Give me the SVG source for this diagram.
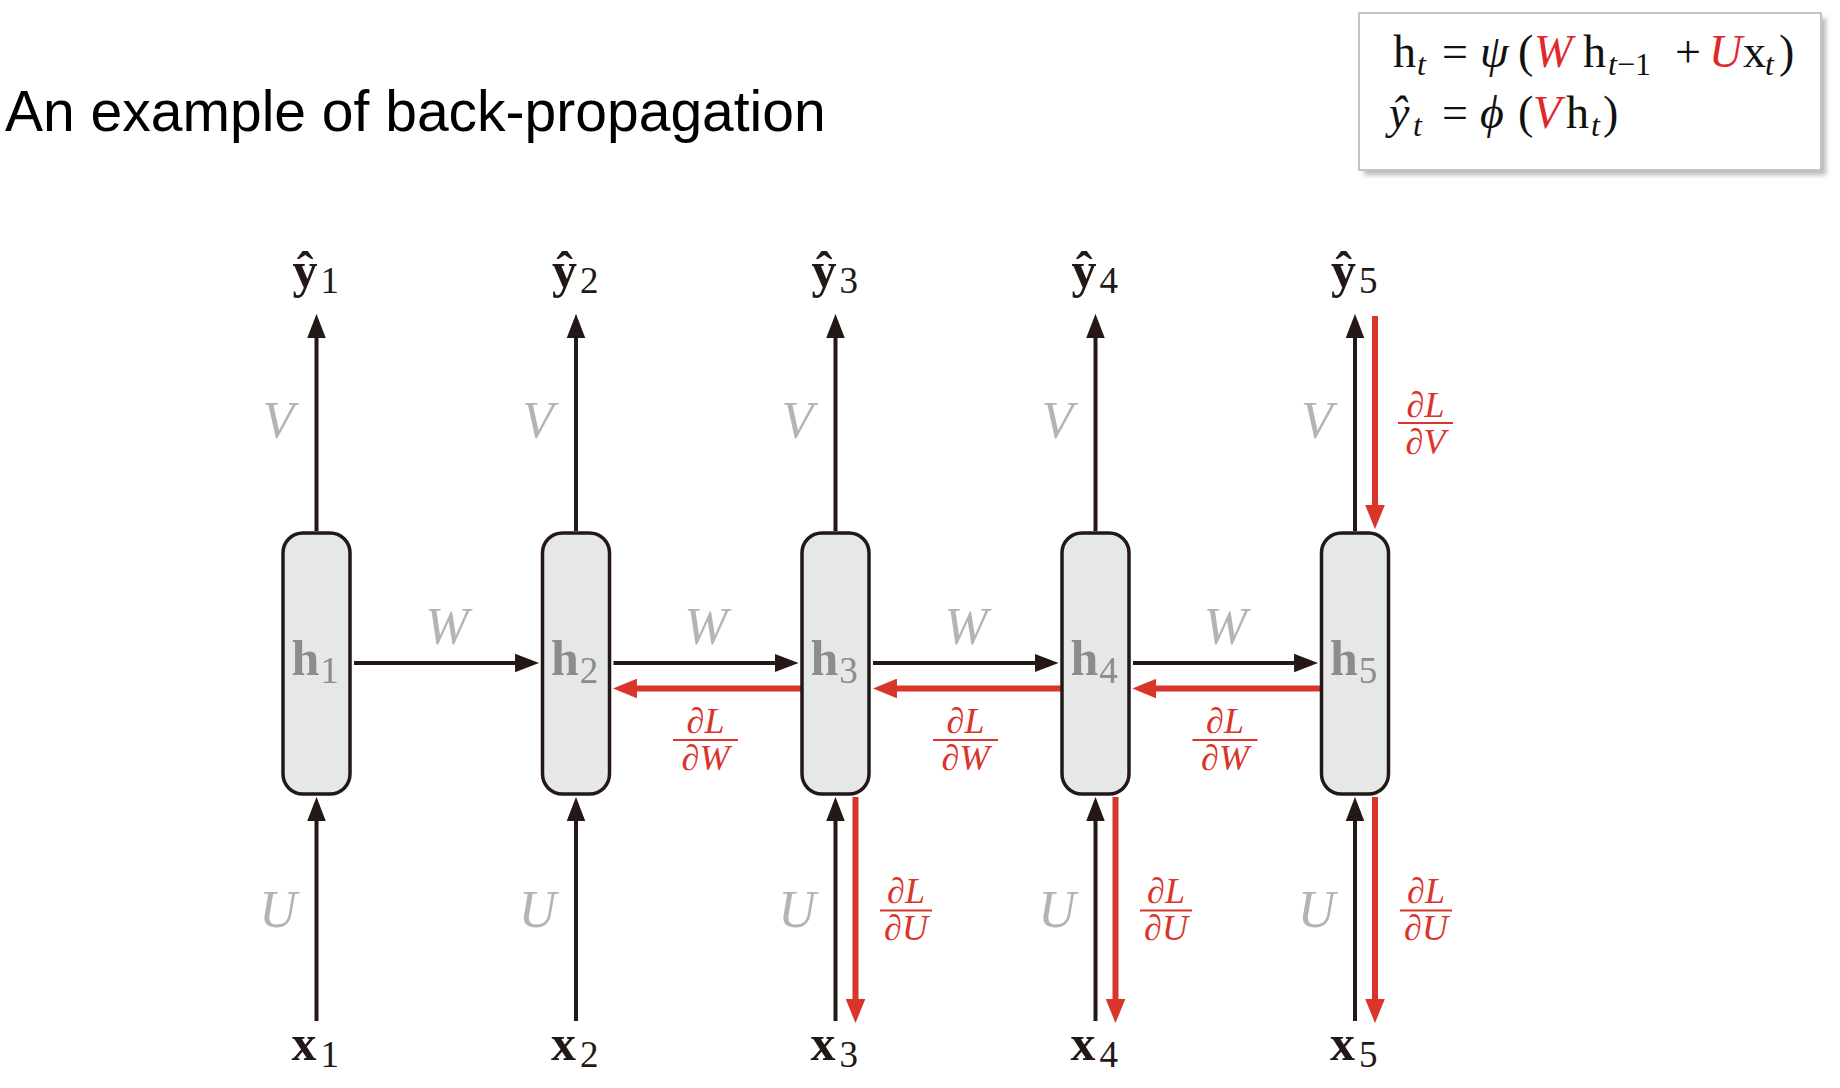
<svg xmlns="http://www.w3.org/2000/svg" width="1840" height="1088" viewBox="0 0 1840 1088">
<style>
  .title { font-family: "Liberation Sans", Arial, sans-serif; font-size: 57px; fill: #000; }
  .f { font-family: "Liberation Serif", "Times New Roman", serif; font-size: 46px; fill: #111; }
  .fs { font-family: "Liberation Serif", "Times New Roman", serif; font-size: 32px; fill: #111; }
  .it { font-style: italic; }
  .fr { fill: #e3262b; }
  .node rect { fill: #e6e8e8; stroke: #231815; stroke-width: 3.5; }
  .hl { font-family: "Liberation Serif", "Times New Roman", serif; font-weight: bold; font-size: 50px; fill: #8c8c8c; }
  .sub { font-weight: normal; font-size: 37px; }
  .io { font-family: "Liberation Serif", "Times New Roman", serif; font-weight: bold; font-size: 50px; fill: #231815; }
  .wl { font-family: "Liberation Serif", "Times New Roman", serif; font-style: italic; font-size: 52px; fill: #b4b4b4; text-anchor: middle; }
  .gl { font-family: "Liberation Serif", "Times New Roman", serif; font-style: italic; font-size: 36px; fill: #d9352b; text-anchor: middle; }
  .fl { stroke: #d9352b; stroke-width: 1.8; }
  .blk { stroke: #231815; stroke-width: 4; fill: none; marker-end: url(#ab); }
  .red { stroke: #d9352b; stroke-width: 6; fill: none; marker-end: url(#ar); }
</style>
<defs>
  <marker id="ab" markerUnits="userSpaceOnUse" markerWidth="24" markerHeight="20" viewBox="0 0 22 17" refX="10" refY="8.5" orient="auto">
    <path d="M0,0 L22,8.5 L0,17 z" fill="#231815"/>
  </marker>
  <marker id="ar" markerUnits="userSpaceOnUse" markerWidth="24" markerHeight="20" viewBox="0 0 22 18" refX="10" refY="9" orient="auto">
    <path d="M0,0 L22,9 L0,18 z" fill="#d9352b"/>
  </marker>
  <filter id="sh" x="-10%" y="-10%" width="130%" height="140%">
    <feGaussianBlur stdDeviation="2.5"/>
  </filter>
</defs>

<rect width="1840" height="1088" fill="#ffffff"/>

<text class="title" x="5" y="131">An example of back-propagation</text>

<g id="formula">
  <rect x="1364" y="18" width="462" height="157" fill="#b8b8b8" filter="url(#sh)"/>
  <rect x="1359" y="13" width="462" height="157" fill="#ffffff" stroke="#c4c4c4" stroke-width="2"/>
  <text class="f" x="1393" y="67">h</text>
  <text class="fs it" x="1417" y="75">t</text>
  <text class="f" x="1442" y="67">=</text>
  <text class="f it" x="1480" y="67">ψ</text>
  <text class="f" x="1518" y="67">(</text>
  <text class="f it fr" x="1534" y="67">W</text>
  <text class="f" x="1583" y="67">h</text>
  <text class="fs" x="1608" y="75"><tspan class="it">t</tspan>−1</text>
  <text class="f" x="1675" y="67">+</text>
  <text class="f it fr" x="1709" y="67">U</text>
  <text class="f" x="1743" y="67">x</text>
  <text class="fs it" x="1765" y="75">t</text>
  <text class="f" x="1779" y="67">)</text>

  <text class="f it" x="1389" y="128">ŷ</text>
  <text class="fs it" x="1413" y="136">t</text>
  <text class="f" x="1442" y="128">=</text>
  <text class="f it" x="1480" y="128">ϕ</text>
  <text class="f" x="1518" y="128">(</text>
  <text class="f it fr" x="1533" y="128">V</text>
  <text class="f" x="1566" y="128">h</text>
  <text class="fs it" x="1591" y="136">t</text>
  <text class="f" x="1603" y="128">)</text>
</g>

<g id="connectors">
  <!-- V arrows up -->
  <line class="blk" x1="316.5" y1="531" x2="316.5" y2="327"/>
  <line class="blk" x1="576" y1="531" x2="576" y2="327"/>
  <line class="blk" x1="835.5" y1="531" x2="835.5" y2="327"/>
  <line class="blk" x1="1095.5" y1="531" x2="1095.5" y2="327"/>
  <line class="blk" x1="1355" y1="531" x2="1355" y2="327"/>
  <!-- U arrows up -->
  <line class="blk" x1="316.5" y1="1021" x2="316.5" y2="810"/>
  <line class="blk" x1="576" y1="1021" x2="576" y2="810"/>
  <line class="blk" x1="835.5" y1="1021" x2="835.5" y2="810"/>
  <line class="blk" x1="1095.5" y1="1021" x2="1095.5" y2="810"/>
  <line class="blk" x1="1355" y1="1021" x2="1355" y2="810"/>
  <!-- W arrows right -->
  <line class="blk" x1="354" y1="663" x2="526" y2="663"/>
  <line class="blk" x1="613.5" y1="663" x2="785.5" y2="663"/>
  <line class="blk" x1="873" y1="663" x2="1045.5" y2="663"/>
  <line class="blk" x1="1133" y1="663" x2="1305" y2="663"/>
  <!-- red gradient arrows left -->
  <line class="red" x1="801.5" y1="688.5" x2="626" y2="688.5"/>
  <line class="red" x1="1061.5" y1="688.5" x2="886" y2="688.5"/>
  <line class="red" x1="1321" y1="688.5" x2="1145.5" y2="688.5"/>
  <!-- red dL/dU arrows down -->
  <line class="red" x1="855.5" y1="797" x2="855.5" y2="1010"/>
  <line class="red" x1="1115.5" y1="797" x2="1115.5" y2="1010"/>
  <line class="red" x1="1375" y1="797" x2="1375" y2="1010"/>
  <!-- red dL/dV arrow down -->
  <line class="red" x1="1375" y1="316" x2="1375" y2="516"/>
</g>

<g id="weight-labels">
  <text class="wl" x="278.5" y="438">V</text>
  <text class="wl" x="538" y="438">V</text>
  <text class="wl" x="797.5" y="438">V</text>
  <text class="wl" x="1057.5" y="438">V</text>
  <text class="wl" x="1317" y="438">V</text>
  <text class="wl" x="278" y="927">U</text>
  <text class="wl" x="537.5" y="927">U</text>
  <text class="wl" x="797" y="927">U</text>
  <text class="wl" x="1057" y="927">U</text>
  <text class="wl" x="1316.5" y="927">U</text>
  <text class="wl" x="447" y="644">W</text>
  <text class="wl" x="706" y="644">W</text>
  <text class="wl" x="966" y="644">W</text>
  <text class="wl" x="1225.5" y="644">W</text>
</g>

<g id="gradient-labels">
  <text class="gl" x="705.5" y="733">∂L</text>
  <line class="fl" x1="673" y1="740" x2="738" y2="740"/>
  <text class="gl" x="705.5" y="770">∂W</text>
  <text class="gl" x="965.5" y="733">∂L</text>
  <line class="fl" x1="933" y1="740" x2="998" y2="740"/>
  <text class="gl" x="965.5" y="770">∂W</text>
  <text class="gl" x="1225" y="733">∂L</text>
  <line class="fl" x1="1192.5" y1="740" x2="1257.5" y2="740"/>
  <text class="gl" x="1225" y="770">∂W</text>

  <text class="gl" x="906" y="903">∂L</text>
  <line class="fl" x1="880" y1="910.5" x2="932" y2="910.5"/>
  <text class="gl" x="906" y="940">∂U</text>
  <text class="gl" x="1166" y="903">∂L</text>
  <line class="fl" x1="1140" y1="910.5" x2="1192" y2="910.5"/>
  <text class="gl" x="1166" y="940">∂U</text>
  <text class="gl" x="1426" y="903">∂L</text>
  <line class="fl" x1="1400" y1="910.5" x2="1452" y2="910.5"/>
  <text class="gl" x="1426" y="940">∂U</text>

  <text class="gl" x="1425.5" y="417">∂L</text>
  <line class="fl" x1="1398" y1="423" x2="1453" y2="423"/>
  <text class="gl" x="1425.5" y="454">∂V</text>
</g>

<g id="h1" class="node">
  <rect x="283" y="533" width="67" height="261" rx="20"/>
  <text class="hl" x="291.5" y="675">h<tspan class="sub" dx="1" dy="8">1</tspan></text>
</g>
<g id="h2" class="node">
  <rect x="542.5" y="533" width="67" height="261" rx="20"/>
  <text class="hl" x="551" y="675">h<tspan class="sub" dx="1" dy="8">2</tspan></text>
</g>
<g id="h3" class="node">
  <rect x="802" y="533" width="67" height="261" rx="20"/>
  <text class="hl" x="810.5" y="675">h<tspan class="sub" dx="1" dy="8">3</tspan></text>
</g>
<g id="h4" class="node">
  <rect x="1062" y="533" width="67" height="261" rx="20"/>
  <text class="hl" x="1070.5" y="675">h<tspan class="sub" dx="1" dy="8">4</tspan></text>
</g>
<g id="h5" class="node">
  <rect x="1321.5" y="533" width="67" height="261" rx="20"/>
  <text class="hl" x="1330" y="675">h<tspan class="sub" dx="1" dy="8">5</tspan></text>
</g>

<g id="y1"><text class="io" x="292.5" y="287">ŷ<tspan class="sub" dx="3" dy="6">1</tspan></text></g>
<g id="y2"><text class="io" x="552" y="287">ŷ<tspan class="sub" dx="3" dy="6">2</tspan></text></g>
<g id="y3"><text class="io" x="811.5" y="287">ŷ<tspan class="sub" dx="3" dy="6">3</tspan></text></g>
<g id="y4"><text class="io" x="1071.5" y="287">ŷ<tspan class="sub" dx="3" dy="6">4</tspan></text></g>
<g id="y5"><text class="io" x="1331" y="287">ŷ<tspan class="sub" dx="3" dy="6">5</tspan></text></g>

<g id="x1"><text class="io" x="291.5" y="1060">x<tspan class="sub" dx="4" dy="7">1</tspan></text></g>
<g id="x2"><text class="io" x="551" y="1060">x<tspan class="sub" dx="4" dy="7">2</tspan></text></g>
<g id="x3"><text class="io" x="810.5" y="1060">x<tspan class="sub" dx="4" dy="7">3</tspan></text></g>
<g id="x4"><text class="io" x="1070.5" y="1060">x<tspan class="sub" dx="4" dy="7">4</tspan></text></g>
<g id="x5"><text class="io" x="1330" y="1060">x<tspan class="sub" dx="4" dy="7">5</tspan></text></g>
</svg>
